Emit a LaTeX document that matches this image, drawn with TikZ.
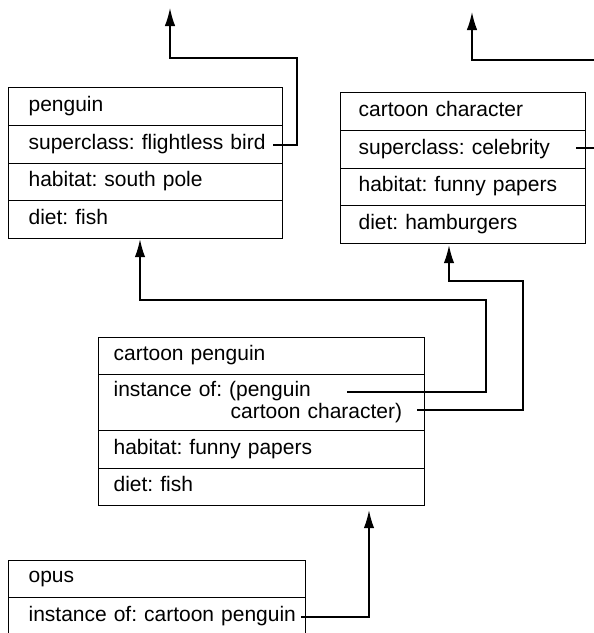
\documentclass[tikz,border=0pt]{standalone}
\usepackage{fontspec}
\setmainfont{Liberation Sans}
\usetikzlibrary{arrows.meta,calc}
\frenchspacing
\begin{document}
\begin{tikzpicture}[x=1pt,y=-1pt,
  cell/.style={draw=black,line width=1.2pt,anchor=north west,inner ysep=0pt,
    minimum height=#1,align=left,font=\fontsize{21}{19}\selectfont},
  conn/.style={draw=black,line width=1.5pt},
  tip/.style={-{Latex[length=18pt,width=10.5pt]}}]
\clip (0,0) rectangle (594,633);
% penguin box
\begin{scope}[cell/.append style={minimum width=274pt,text width=234pt,inner xsep=20pt}]
\node[cell=38pt] (p1) at (8,87) {\mbox{\strut penguin}};
\node[cell=38pt] (p2) at (8,125) {\mbox{\strut superclass: flightless bird}};
\node[cell=37pt] (p3) at (8,163) {\mbox{\strut habitat: south pole}};
\node[cell=38pt] (p4) at (8,200) {\mbox{\strut diet: fish}};
\end{scope}
% cartoon character box
\begin{scope}[cell/.append style={minimum width=245pt,text width=209pt,inner xsep=18pt}]
\node[cell=38pt] (c1) at (340,92) {\mbox{\strut cartoon character}};
\node[cell=38pt] (c2) at (340,130) {\mbox{\strut superclass: celebrity}};
\node[cell=37pt] (c3) at (340,168) {\mbox{\strut habitat: funny papers}};
\node[cell=38pt] (c4) at (340,205) {\mbox{\strut diet: hamburgers}};
\end{scope}
% cartoon penguin box
\begin{scope}[cell/.append style={minimum width=326pt,text width=296pt,inner xsep=15pt}]
\node[cell=37pt] (k1) at (98,337) {\mbox{\strut cartoon penguin}};
\node[cell=56pt] (k2) at (98,374) {\mbox{\strut instance of: (penguin}\\\mbox{\strut\hspace*{117pt}cartoon character)}};
\node[cell=38pt] (k3) at (98,430) {\mbox{\strut habitat: funny papers}};
\node[cell=37pt] (k4) at (98,468) {\mbox{\strut diet: fish}};
\end{scope}
% opus box
\begin{scope}[cell/.append style={minimum width=297pt,text width=257pt,inner xsep=20pt}]
\node[cell=37pt] (o1) at (8,560) {\mbox{\strut opus}};
\node[cell=38pt] (o2) at (8,597) {\mbox{\strut instance of: cartoon penguin}};
\end{scope}
% connector coordinates
\coordinate (s1) at (273,145);
\coordinate (e1) at (170,8);
\coordinate (s2) at (576,148);
\coordinate (e2) at (472,12);
\coordinate (s3) at (347,392);
\coordinate (e3) at ($(p4.south west)+(132,0)$);
\coordinate (s4) at (417,410);
\coordinate (e4) at ($(c4.south west)+(109,1)$);
\coordinate (s5) at (301,617);
\coordinate (e5) at ($(k4.south west)+(271,4)$);
% connectors
\draw[conn,tip] (s1) -- (297,145) -- (297,58) -- (170,58) -- (e1);
\draw[conn,tip] (s2) -- (610,148) -- (610,60) -- (472,60) -- (e2);
\draw[conn,tip] (s3) -- (486,392) -- (486,300) -- (140,300) -- (e3);
\draw[conn,tip] (s4) -- (523,410) -- (523,281) -- (449,281) -- (e4);
\draw[conn,tip] (s5) -- (369,617) -- (e5);
\end{tikzpicture}
\end{document}
